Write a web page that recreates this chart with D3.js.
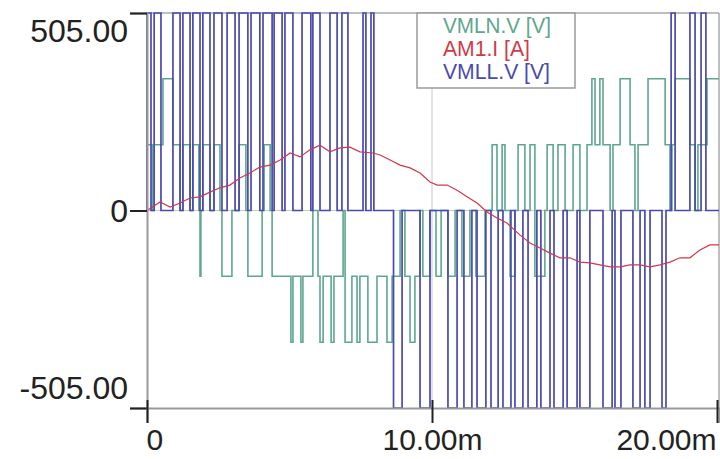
<!DOCTYPE html>
<html>
<head>
<meta charset="utf-8">
<script src="https://cdn.jsdelivr.net/npm/d3@7"></script>
<style>
  body { margin: 0; background: #fff; }
  svg { display: block; font-family: "Liberation Sans", Arial, sans-serif; }
</style>
</head>
<body>
<div id="chart"></div>
<script>
// axis ticks (time in ms, values on the +-505 scale)
const xTicks = [0, 10, 20];
const xTickLabels = ["0", "10.00m", "20.00m"];
const yTicks = [-505, 0, 505];
const yTickLabels = ["-505.00", "0", "505.00"];
const legendNames = ["VMLN.V [V]", "AM1.I [A]", "VMLL.V [V]"];

// VMLN.V: switching instants (ms) and the level held after each one
const vmlnTimes = [0, 0.18, 0.25, 0.56, 0.91, 1.16, 1.26, 1.51, 1.61, 1.82, 1.86, 1.89, 1.96, 2.21, 2.35, 2.56,
  2.63, 2.98, 3.23, 3.47, 3.54, 4.04, 4.11, 4.32, 4.39, 5.05, 5.12, 5.40, 5.47, 5.82, 6.00, 6.07,
  6.18, 6.46, 6.56, 6.88, 6.95, 7.19, 7.37, 7.47, 7.75, 8.07, 8.42, 8.60, 8.88, 9.05, 9.23, 9.40,
  9.58, 9.68, 9.93, 10.14, 10.32, 10.56, 10.81, 11.05, 11.33, 11.54, 11.86, 12.11, 12.28, 12.46, 12.56, 12.74,
  12.91, 13.02, 13.26, 13.44, 13.61, 13.96, 14.04, 14.25, 14.42, 14.67, 14.95, 15.19, 15.44, 15.61, 15.72, 15.89,
  16.00, 16.25, 16.35, 16.60, 16.95, 17.12, 17.23, 17.58, 18.18, 18.35, 18.42, 18.53, 19.05, 19.23, 19.33, 19.65];
const vmlnLevels = [168, 0, 168, 337, 168, 0, 168, 0, 168, 0, -168, 0, 168, 0, 168, 0,
  -168, 0, 168, 0, -168, 0, 168, 0, -168, -337, -168, -337, -168, 0, -168, -337,
  -168, -337, -168, 0, -337, -168, -337, -168, -337, -168, -337, -168, 0, -168, -337, -168,
  0, -168, 0, -168, 0, -168, 0, -168, 0, -168, 0, 168, 0, 168, 0, -168,
  0, 168, 0, 168, -168, 0, 168, 0, 168, 0, 168, 0, 168, 337, 168, 337,
  168, 0, 168, 337, 168, 0, 168, 337, 168, 0, 168, 337, 168, 0, 168, 337];

// VMLL.V pulses: start, end (ms) and pulse level
const vmllStart = [0.00, 0.25, 0.91, 1.26, 1.61, 1.96, 2.35, 2.81, 3.23, 3.65, 4.07, 4.46, 4.84, 5.44, 5.82, 6.42,
  6.84, 7.58, 7.86, 8.65, 9.58, 10.56, 11.12, 11.58, 12.07, 12.49, 12.91, 13.37, 13.82, 14.28, 14.74, 15.19,
  16.00, 16.42, 17.05, 17.47, 18.07, 18.39, 19.05, 19.44];
const vmllEnd = [0.14, 0.49, 1.16, 1.51, 1.86, 2.21, 2.63, 3.09, 3.54, 3.96, 4.39, 4.74, 5.12, 5.75, 6.07, 6.67,
  7.05, 7.68, 7.96, 8.95, 9.93, 10.88, 11.40, 11.89, 12.32, 12.77, 13.19, 13.68, 14.14, 14.60, 15.09, 15.54,
  16.32, 16.63, 17.30, 17.65, 18.21, 18.53, 19.23, 19.61];
const vmllLevel = [505, 505, 505, 505, 505, 505, 505, 505, 505, 505, 505, 505, 505, 505, 505, 505,
  505, 505, 505, -505, -505, -505, -505, -505, -505, -505, -505, -505, -505, -505, -505, -505,
  -505, -505, -505, -505, -505, 505, 505, 505];

// AM1.I samples
const am1Times = [0, 0.46, 0.81, 1.16, 1.51, 1.86, 2.21, 2.56, 2.91, 3.26, 3.61, 3.96, 4.32, 4.67, 5.02, 5.37,
  5.72, 6.07, 6.42, 6.77, 7.12, 7.47, 7.93, 8.18, 8.53, 8.88, 9.23, 9.58, 9.93, 10.18, 10.53, 10.88,
  11.23, 11.58, 11.93, 12.28, 12.63, 13.09, 13.44, 13.79, 14.14, 14.49, 14.84, 15.19, 15.54, 15.89, 16.25, 16.60,
  16.95, 17.30, 17.65, 18.00, 18.35, 18.70, 19.05, 19.40, 19.75, 20.07];
const am1Values = [0, 22, 9, 19, 32, 35, 47, 58, 65, 83, 96, 111, 116, 129, 147, 137,
  155, 167, 150, 160, 162, 150, 147, 142, 129, 116, 109, 96, 73, 65, 65, 52,
  35, 19, -4, -19, -32, -63, -83, -96, -109, -121, -121, -132, -134, -139, -144, -144,
  -139, -139, -144, -139, -132, -121, -121, -101, -88, -88];

const width = 720;
const height = 459;
const tEnd = 20.07;

const svg = d3.select("#chart").append("svg").attr("width", width).attr("height", height);

const x = d3.scaleLinear().domain([0, tEnd]).range([147, 719]);
const y = d3.scaleLinear().domain([-505, 505]).range([408, 13]);

const tealColor = "#5ea78d";
const redColor = "#cf3a48";
const blueColor = "#4a4aae";

// frame and grid
svg.append("line").attr("x1", 147).attr("x2", 719).attr("y1", 13).attr("y2", 13)
    .attr("stroke", "#a8a8a8").attr("stroke-width", 1.5);
svg.append("line").attr("x1", 719).attr("x2", 719).attr("y1", 13).attr("y2", 408)
    .attr("stroke", "#a8a8a8").attr("stroke-width", 1.5);
svg.append("line").attr("x1", x(10)).attr("x2", x(10)).attr("y1", 13).attr("y2", 408)
    .attr("stroke", "#c8c8c8").attr("stroke-width", 1);
svg.append("line").attr("x1", 147).attr("x2", 719).attr("y1", y(0)).attr("y2", y(0))
    .attr("stroke", "#c8c8c8").attr("stroke-width", 1);

svg.append("clipPath").attr("id", "plot")
  .append("rect").attr("x", 146).attr("y", 12).attr("width", 574).attr("height", 397);

const plot = svg.append("g").attr("clip-path", "url(#plot)");

const stepLine = d3.line().x(d => x(d.t)).y(d => y(d.v)).curve(d3.curveStepAfter);

// VMLN.V
const vmln = vmlnTimes.map((t, i) => ({ t: t, v: vmlnLevels[i] }));
vmln.push({ t: tEnd, v: vmlnLevels[vmlnLevels.length - 1] });
plot.append("path").datum(vmln)
    .attr("fill", "none").attr("stroke", tealColor).attr("stroke-width", 1.6)
    .attr("d", stepLine);

// VMLL.V
const vmll = [{ t: 0, v: 0 }];
vmllStart.forEach((s, i) => {
    vmll.push({ t: s, v: vmllLevel[i] });
    vmll.push({ t: vmllEnd[i], v: 0 });
});
vmll.push({ t: tEnd, v: 0 });
plot.append("path").datum(vmll)
    .attr("fill", "none").attr("stroke", blueColor).attr("stroke-width", 1.7)
    .attr("d", stepLine);

// AM1.I
const am1 = am1Times.map((t, i) => ({ t: t, v: am1Values[i] }));
plot.append("path").datum(am1)
    .attr("fill", "none").attr("stroke", redColor).attr("stroke-width", 1.2)
    .attr("d", d3.line().x(d => x(d.t)).y(d => y(d.v)));

// y axis
const yAxis = svg.append("g").attr("transform", "translate(147,0)")
    .call(d3.axisLeft(y).tickValues(yTicks).tickSize(17).tickPadding(2)
        .tickFormat((d, i) => yTickLabels[i]));
yAxis.select(".domain").attr("stroke", "#999").attr("stroke-width", 2);
yAxis.selectAll(".tick line").attr("stroke", "#222").attr("stroke-width", 2);
yAxis.selectAll(".tick text")
    .attr("font-size", 32).attr("fill", "#222")
    .attr("font-family", "Liberation Sans, Arial, sans-serif")
    .attr("dy", d => d === 505 ? 28 : (d === -505 ? -10 : 11));

// x axis
const xAxis = svg.append("g").attr("transform", "translate(0,408)")
    .call(d3.axisBottom(x).tickValues(xTicks).tickSize(15).tickPadding(0)
        .tickFormat((d, i) => xTickLabels[i]));
xAxis.select(".domain").attr("stroke", "#999").attr("stroke-width", 2);
xAxis.selectAll(".tick line").attr("stroke", "#222").attr("stroke-width", 2).attr("y1", -8);
xAxis.selectAll(".tick text")
    .attr("font-size", 30).attr("fill", "#222")
    .attr("font-family", "Liberation Sans, Arial, sans-serif")
    .attr("y", 42).attr("dy", 0)
    .attr("text-anchor", (d, i) => i === 0 ? "start" : (i === xTicks.length - 1 ? "end" : "middle"))
    .attr("dx", (d, i) => i === 0 ? -1 : (i === xTicks.length - 1 ? -1 : 0));

// legend
const legendColors = [tealColor, redColor, blueColor];
const legendWidths = [108, 87, 107];
const legend = svg.append("g");
legend.append("rect").attr("x", 417).attr("y", 13).attr("width", 158).attr("height", 75)
    .attr("fill", "#fff").attr("stroke", "#9a9a9a").attr("stroke-width", 1.5);
legend.selectAll("text").data(legendNames).join("text")
    .attr("x", 443)
    .attr("y", (d, i) => 33 + i * 23)
    .attr("font-size", 22)
    .attr("fill", (d, i) => legendColors[i])
    .attr("textLength", (d, i) => legendWidths[i])
    .attr("lengthAdjust", "spacingAndGlyphs")
    .text(d => d);
</script>
</body>
</html>
